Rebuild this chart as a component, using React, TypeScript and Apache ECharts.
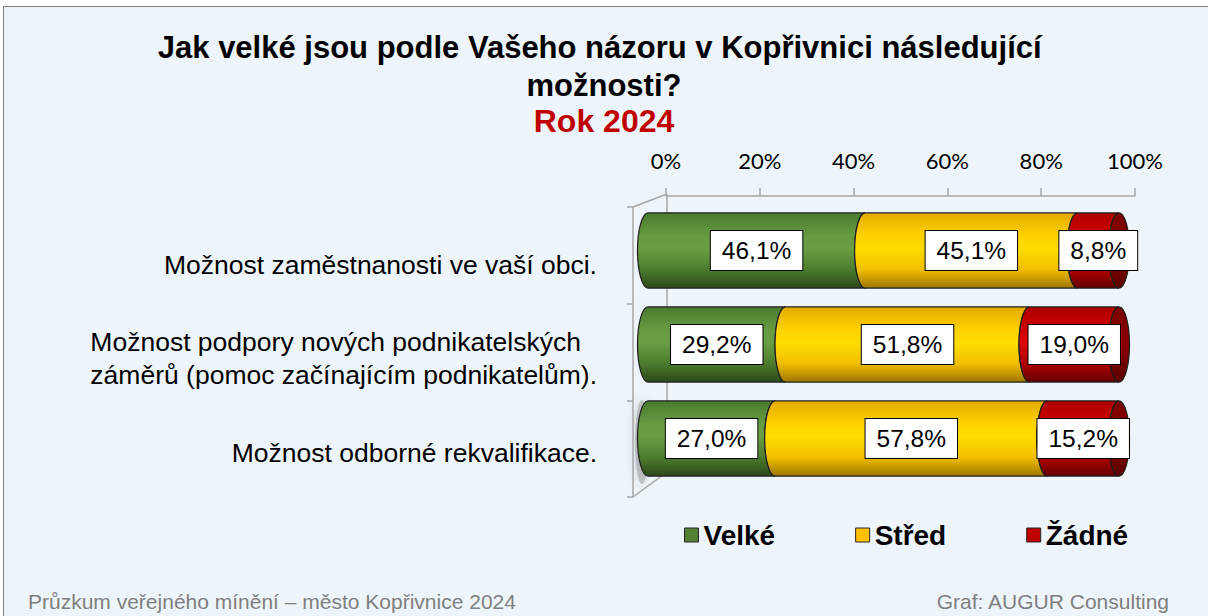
import React, { useEffect, useRef } from "react";
import * as echarts from "echarts";

const categories = [
  "Možnost zaměstnanosti ve vaší obci.",
  "Možnost podpory nových podnikatelských\nzáměrů (pomoc začínajícím podnikatelům).",
  "Možnost odborné rekvalifikace.",
];
const seriesNames = ["Velké", "Střed", "Žádné"];
const velke = [46.1, 29.2, 27.0];
const stred = [45.1, 51.8, 57.8];
const zadne = [8.8, 19.0, 15.2];
const tickValues = [0, 20, 40, 60, 80, 100];
const tickLabels = ["0%", "20%", "40%", "60%", "80%", "100%"];
const legendColors = ["#548235", "#FFC000", "#C00000"];
const titleText = "Jak velké jsou podle Vašeho názoru v Kopřivnici následující \nmožnosti?";
const subtitleText = "Rok 2024";
const footerLeft = "Průzkum veřejného mínění – město Kopřivnice 2024";
const footerRight = "Graf: AUGUR Consulting";

const FONT = '"Liberation Sans", Arial, sans-serif';

const gradients: [number, string][][] = [
  [
    [0, "#4A7A2E"],
    [0.3, "#669B41"],
    [0.48, "#6A9E44"],
    [0.75, "#4C7C2E"],
    [1, "#2B4818"],
  ],
  [
    [0, "#E3A900"],
    [0.3, "#FFD200"],
    [0.48, "#FFDD00"],
    [0.75, "#F2BF00"],
    [1, "#9E7600"],
  ],
  [
    [0, "#AE0000"],
    [0.3, "#D00000"],
    [0.48, "#DC0505"],
    [0.75, "#B20000"],
    [1, "#640000"],
  ],
];

function lg(stops: [number, string][]) {
  return new echarts.graphic.LinearGradient(
    0,
    0,
    0,
    1,
    stops.map(([offset, color]) => ({ offset, color }))
  );
}

function fmt(v: number) {
  return v.toFixed(1).replace(".", ",") + "%";
}

export default function App() {
  const ref = useRef<HTMLDivElement>(null);

  useEffect(() => {
    if (!ref.current) return;
    const chart = echarts.init(ref.current, undefined, { renderer: "svg" });

    const values = [velke, stred, zadne];
    const starts = values.map((_, k) =>
      categories.map((__, i) => {
        let s = 0;
        for (let j = 0; j < k; j++) s += values[j][i];
        return s;
      })
    );

    const labelFontSize = 26.5;
    const ctx = document.createElement("canvas").getContext("2d")!;
    ctx.font = `${labelFontSize}px "Liberation Sans"`;
    let maxW = 0;
    categories.forEach((c) =>
      c.split("\n").forEach((l) => {
        maxW = Math.max(maxW, ctx.measureText(l).width);
      })
    );

    const RX = 10.5;

    const customSeries = values.map((vals, k) => ({
      type: "custom",
      name: seriesNames[k],
      xAxisIndex: 1,
      yAxisIndex: 1,
      z: 2,
      itemStyle: { color: legendColors[k] },
      encode: { x: [1, 2], y: 0 },
      data: vals.map((v, i) => [i, starts[k][i], starts[k][i] + v, v]),
      renderItem: (params: any, api: any) => {
        const cat = api.value(0);
        const s = api.value(1);
        const e = api.value(2);
        const p0 = api.coord([s, cat]);
        const p1 = api.coord([e, cat]);
        const h = api.size([0, 1])[1] * 0.8;
        const cy = p0[1];
        const top = cy - h / 2;
        const bot = cy + h / 2;
        const x0 = p0[0];
        const x1 = p1[0];
        const ry = h / 2;
        const d = `M${x0},${top} A${RX},${ry} 0 0 0 ${x0},${bot} L${x1},${bot} A${RX},${ry} 0 0 1 ${x1},${top} Z`;
        const children: any[] = [
          {
            type: "path",
            shape: { pathData: d },
            style: { fill: lg(gradients[k]), stroke: "#1E1E1E", lineWidth: 1.2 },
          },
        ];
        if (k === values.length - 1) {
          children.push({
            type: "ellipse",
            shape: { cx: x1, cy, rx: RX, ry },
            style: {
              fill: lg([
                [0, "#7A0000"],
                [0.5, "#8C0000"],
                [1, "#5A0000"],
              ]),
              stroke: "#1E1E1E",
              lineWidth: 1.2,
            },
          });
        }
        return { type: "group", children };
      },
    }));

    const labelSeries = values.map((vals, k) => ({
      type: "bar",
      name: "_lbl" + k,
      stack: "lbl",
      xAxisIndex: 1,
      yAxisIndex: 1,
      z: 5,
      barWidth: "80%",
      silent: true,
      itemStyle: { color: "rgba(0,0,0,0)" },
      label: {
        show: true,
        position: "inside",
        formatter: (p: any) => fmt(p.value),
        fontFamily: FONT,
        fontSize: 24.5,
        lineHeight: 27,
        color: "#000",
        backgroundColor: "#FFFFFF",
        borderColor: "#000",
        borderWidth: 1,
        padding: [6, 11, 6, 11],
      },
      data: vals,
    }));

    const grey = "#A6A6A6";

    chart.setOption({
      animation: false,
      backgroundColor: "transparent",
      title: {
        text: titleText,
        subtext: subtitleText,
        left: "center",
        top: 23,
        itemGap: 0,
        textStyle: {
          fontFamily: FONT,
          fontWeight: "bold",
          fontSize: 31,
          lineHeight: 38,
          color: "#000",
        },
        subtextStyle: {
          fontFamily: FONT,
          fontWeight: "bold",
          fontSize: 32,
          lineHeight: 34,
          color: "#C00000",
        },
      },
      legend: {
        data: seriesNames.map((n, i) => ({ name: n, itemStyle: { color: legendColors[i] } })),
        left: 684,
        top: 521,
        padding: 0,
        itemWidth: 14,
        itemHeight: 14,
        itemGap: 80,
        icon: "rect",
        selectedMode: false,
        itemStyle: { borderColor: "#262626", borderWidth: 1 },
        textStyle: { fontFamily: FONT, fontWeight: "bold", fontSize: 28, color: "#000" },
      },
      grid: [
        { left: 666, right: 73, top: 195, height: 1 },
        { left: 648, right: 89, top: 203.5, bottom: 130.5 },
        { left: 633, right: 541, top: 207, bottom: 119 },
      ],
      xAxis: [
        {
          gridIndex: 0,
          type: "value",
          position: "top",
          min: tickValues[0],
          max: tickValues[tickValues.length - 1],
          interval: tickValues[1] - tickValues[0],
          axisLine: { show: true, lineStyle: { color: grey, width: 1.5 } },
          axisTick: { show: true, length: 8, lineStyle: { color: grey, width: 1.5 } },
          splitLine: { show: false },
          axisLabel: {
            margin: 24,
            fontFamily: "Lato, sans-serif",
            fontSize: 22,
            color: "#000",
            formatter: (v: number) => tickLabels[tickValues.indexOf(v)] ?? "",
          },
        },
        { gridIndex: 1, type: "value", min: 0, max: 100, show: false },
        { gridIndex: 2, type: "value", min: 0, max: 100, show: false },
      ],
      yAxis: [
        { gridIndex: 0, type: "value", show: false },
        {
          gridIndex: 1,
          type: "category",
          inverse: true,
          data: categories,
          axisLine: { show: false },
          axisTick: { show: false },
          splitLine: { show: false },
          axisLabel: {
            margin: 51,
            fontFamily: FONT,
            fontSize: labelFontSize,
            color: "#000",
            padding: [28, 0, 0, 0],
            formatter: (v: string) =>
              v.includes("\n")
                ? v
                    .split("\n")
                    .map((l) => `{l|${l}}`)
                    .join("\n")
                : v,
            rich: {
              l: {
                width: maxW,
                align: "left",
                fontFamily: FONT,
                fontSize: labelFontSize,
                lineHeight: 33,
                color: "#000",
              },
            },
          },
        },
        {
          gridIndex: 2,
          type: "category",
          inverse: true,
          data: categories,
          axisLine: { show: true, onZero: false, lineStyle: { color: grey, width: 1.5 } },
          axisTick: { show: true, length: 6, lineStyle: { color: grey, width: 1.5 } },
          axisLabel: { show: false },
          splitLine: { show: false },
        },
      ],
      graphic: [
        {
          type: "line",
          shape: { x1: 633, y1: 207, x2: 667, y2: 194 },
          style: { stroke: grey, lineWidth: 1.5 },
        },
        {
          type: "line",
          shape: { x1: 667, y1: 194, x2: 667, y2: 472 },
          style: { stroke: grey, lineWidth: 1.5 },
        },
        {
          type: "line",
          shape: { x1: 633, y1: 497, x2: 667, y2: 472 },
          style: { stroke: grey, lineWidth: 1.5 },
        },
        {
          type: "ellipse",
          shape: { cx: 642, cy: 442, rx: 7, ry: 42 },
          style: {
            fill: "rgba(110,110,110,0.35)",
            shadowBlur: 12,
            shadowColor: "rgba(0,0,0,0.45)",
          },
        },
        {
          type: "text",
          x: 28,
          y: 601,
          style: {
            text: footerLeft,
            fontFamily: FONT,
            fontSize: 21,
            fill: "#7F7F7F",
            align: "left",
            verticalAlign: "middle",
          },
        },
        {
          type: "text",
          x: 1169,
          y: 601,
          style: {
            text: footerRight,
            fontFamily: FONT,
            fontSize: 21,
            fill: "#7F7F7F",
            align: "right",
            verticalAlign: "middle",
          },
        },
      ],
      series: [...customSeries, ...labelSeries],
    });

    return () => chart.dispose();
  }, []);

  return (
    <div
      style={{
        position: "absolute",
        left: 0,
        top: 0,
        width: 1208,
        height: 616,
        overflow: "hidden",
        background: "#FFFFFF",
      }}
    >
      <div
        style={{
          position: "absolute",
          left: 3,
          top: 6,
          width: 1400,
          height: 800,
          background: "#EEF5FA",
          border: "1.5px solid #7F7F7F",
          boxSizing: "border-box",
        }}
      />
      <div ref={ref} style={{ position: "absolute", left: 0, top: 0, width: 1208, height: 616 }} />
    </div>
  );
}
